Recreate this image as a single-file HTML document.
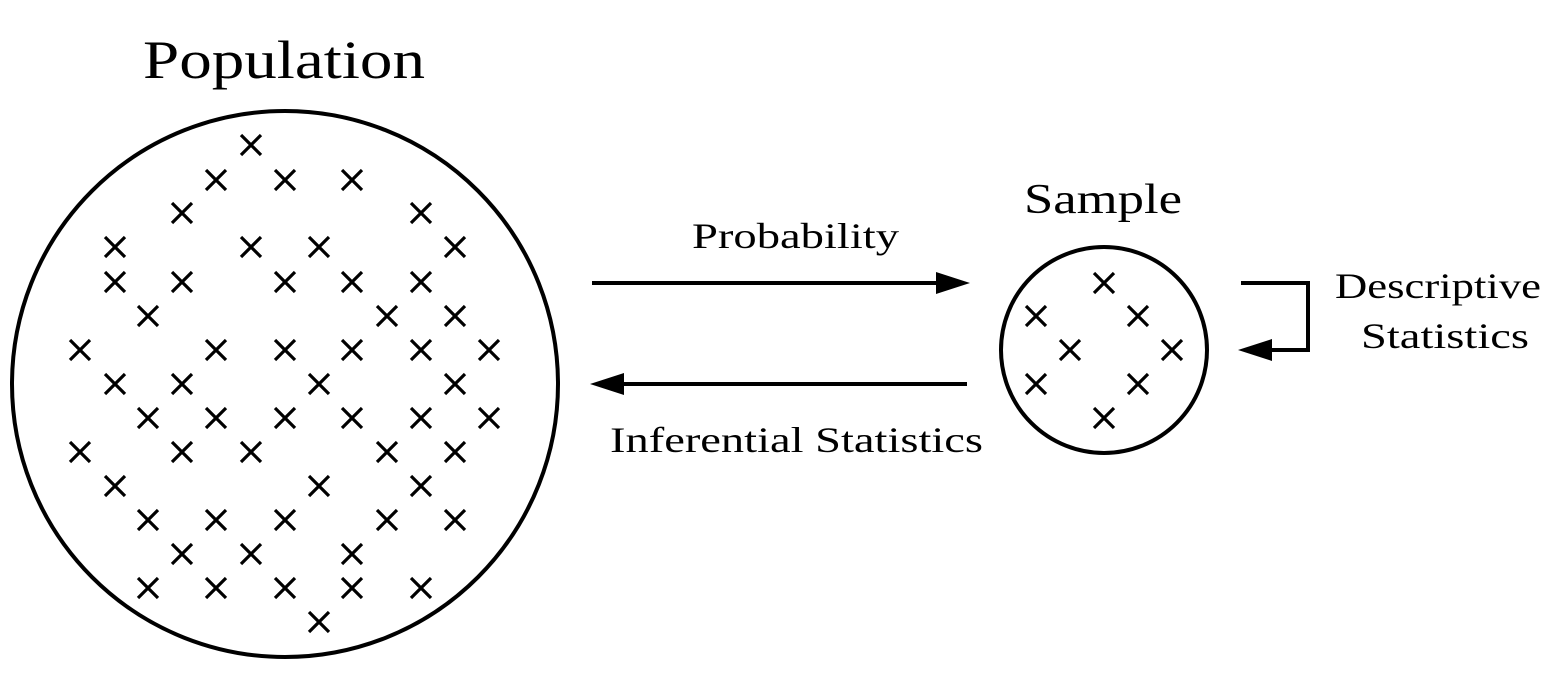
<!DOCTYPE html>
<html><head><meta charset="utf-8"><style>html,body{margin:0;padding:0;background:#fff}</style></head>
<body>
<svg width="1554" height="676" viewBox="0 0 1554 676" xmlns="http://www.w3.org/2000/svg" font-family="'Liberation Serif', serif">
<defs><path id="x" d="M-10,-10L10,10M10,-10L-10,10" stroke="#000" stroke-width="3.2"/></defs>
<circle cx="285" cy="384" r="273" fill="none" stroke="#000" stroke-width="4"/>
<circle cx="1104" cy="350" r="103" fill="none" stroke="#000" stroke-width="4"/>
<g>
<use href="#x" x="251" y="145"/>
<use href="#x" x="216" y="180"/><use href="#x" x="285" y="180"/><use href="#x" x="352" y="180"/>
<use href="#x" x="182" y="213"/><use href="#x" x="421" y="213"/>
<use href="#x" x="115" y="247"/><use href="#x" x="251" y="247"/><use href="#x" x="319" y="247"/><use href="#x" x="455" y="247"/>
<use href="#x" x="115" y="282"/><use href="#x" x="182" y="282"/><use href="#x" x="285" y="282"/><use href="#x" x="352" y="282"/><use href="#x" x="421" y="282"/>
<use href="#x" x="148" y="316"/><use href="#x" x="387" y="316"/><use href="#x" x="455" y="316"/>
<use href="#x" x="80" y="350"/><use href="#x" x="216" y="350"/><use href="#x" x="285" y="350"/><use href="#x" x="352" y="350"/><use href="#x" x="421" y="350"/><use href="#x" x="489" y="350"/>
<use href="#x" x="115" y="384"/><use href="#x" x="182" y="384"/><use href="#x" x="319" y="384"/><use href="#x" x="455" y="384"/>
<use href="#x" x="148" y="418"/><use href="#x" x="216" y="418"/><use href="#x" x="285" y="418"/><use href="#x" x="352" y="418"/><use href="#x" x="421" y="418"/><use href="#x" x="489" y="418"/>
<use href="#x" x="80" y="452"/><use href="#x" x="182" y="452"/><use href="#x" x="251" y="452"/><use href="#x" x="387" y="452"/><use href="#x" x="455" y="452"/>
<use href="#x" x="115" y="486"/><use href="#x" x="319" y="486"/><use href="#x" x="421" y="486"/>
<use href="#x" x="148" y="520"/><use href="#x" x="216" y="520"/><use href="#x" x="285" y="520"/><use href="#x" x="387" y="520"/><use href="#x" x="455" y="520"/>
<use href="#x" x="182" y="554"/><use href="#x" x="251" y="554"/><use href="#x" x="352" y="554"/>
<use href="#x" x="148" y="588"/><use href="#x" x="216" y="588"/><use href="#x" x="285" y="588"/><use href="#x" x="352" y="588"/><use href="#x" x="421" y="588"/>
<use href="#x" x="319" y="622"/>
<use href="#x" x="1104" y="283"/><use href="#x" x="1036" y="316"/><use href="#x" x="1138" y="316"/><use href="#x" x="1070" y="350"/><use href="#x" x="1172" y="350"/><use href="#x" x="1036" y="384"/><use href="#x" x="1138" y="384"/><use href="#x" x="1104" y="418"/>
</g>
<g fill="#000">
<path d="M592,283 L945,283" stroke="#000" stroke-width="4"/>
<path d="M970,283 L936,272 L936,294 Z"/>
<path d="M967,384 L615,384" stroke="#000" stroke-width="4"/>
<path d="M590,384 L624,373 L624,395 Z"/>
<path d="M1241,283 L1308,283 L1308,350 L1265,350" stroke="#000" stroke-width="4" fill="none"/>
<path d="M1238,350 L1272,339 L1272,361 Z"/>
</g>
<g fill="#000">
<text x="143" y="78" font-size="54" textLength="282" lengthAdjust="spacingAndGlyphs">Population</text>
<text x="1024" y="213" font-size="42" textLength="158" lengthAdjust="spacingAndGlyphs">Sample</text>
<text x="692" y="248" font-size="36" textLength="207" lengthAdjust="spacingAndGlyphs">Probability</text>
<text x="610" y="452" font-size="36" textLength="373" lengthAdjust="spacingAndGlyphs">Inferential Statistics</text>
<text x="1335" y="298" font-size="36" textLength="206" lengthAdjust="spacingAndGlyphs">Descriptive</text>
<text x="1361" y="348" font-size="36" textLength="168" lengthAdjust="spacingAndGlyphs">Statistics</text>
</g>
</svg>
</body></html>
